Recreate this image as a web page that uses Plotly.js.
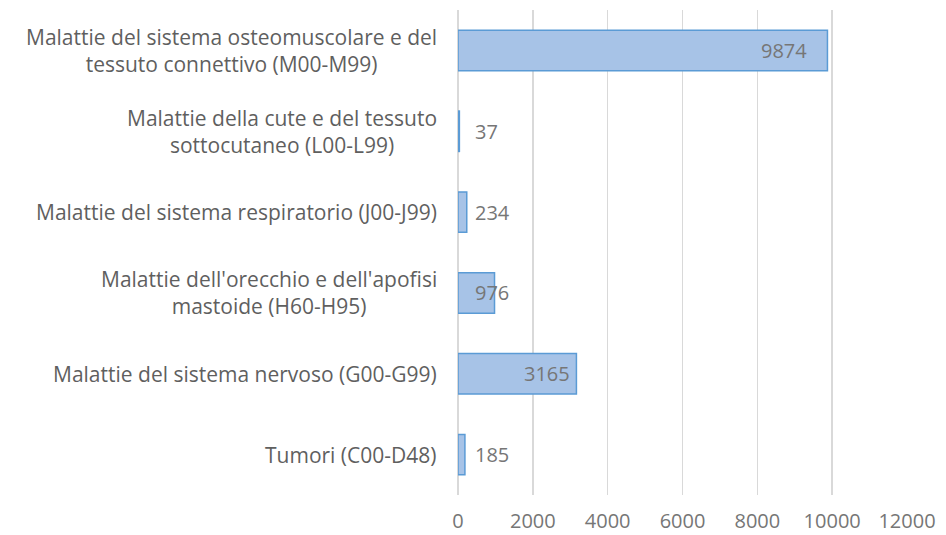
<!DOCTYPE html>
<html>
<head>
<meta charset="utf-8">
<script src="https://cdn.plot.ly/plotly-3.0.1.min.js"></script>
<style>html,body{margin:0;padding:0;background:#fff;}#chart{width:946px;height:535px;}</style>
</head>
<body>
<div id="chart"></div>
<script>
// Categories (bottom to top, as drawn)
const categories = [
  "Tumori (C00-D48)",
  "Malattie del sistema nervoso (G00-G99)",
  "Malattie dell'orecchio e dell'apofisi<br>mastoide (H60-H95)",
  "Malattie del sistema respiratorio (J00-J99)",
  "Malattie della cute e del tessuto<br>sottocutaneo (L00-L99)",
  "Malattie del sistema osteomuscolare e del<br>tessuto connettivo (M00-M99)"
];
const values = [185, 3165, 976, 234, 37, 9874];
const tickValues = [0, 2000, 4000, 6000, 8000, 10000, 12000];

const FONT = "Open Sans, Noto Sans, sans-serif";
const GRAY = "#5f5f5f";
const NUMGRAY = "#767676";

const annotations = [];
categories.forEach((c, i) => {
  annotations.push({
    xref: "paper", yref: "y", x: 0, y: c, xanchor: "right", yanchor: "middle",
    xshift: -19, align: "center", showarrow: false, text: c,
    font: {family: FONT, size: 21, color: GRAY}
  });
  const v = values[i];
  const big = v > 2000;
  annotations.push({
    xref: "x", yref: "y", x: big ? v : 0, y: c,
    xanchor: big ? "right" : "left", yanchor: "middle",
    xshift: big ? (v > 5000 ? -18 : -4) : 15,
    showarrow: false, text: String(v),
    font: {family: FONT, size: 20, color: NUMGRAY}
  });
});

const trace = {
  type: "bar", orientation: "h",
  x: values, y: categories,
  marker: {color: "#a7c3e7", line: {color: "#5b9bd5", width: 1.5}},
  hoverinfo: "none"
};

const layout = {
  width: 946, height: 535,
  margin: {l: 458, r: 39, t: 10, b: 40, pad: 0},
  paper_bgcolor: "#fff", plot_bgcolor: "#fff",
  showlegend: false,
  bargap: 0.5,
  xaxis: {
    range: [0, 12000], tickvals: tickValues, ticktext: tickValues.map(String),
    showgrid: true, gridcolor: "#d9d9d9", gridwidth: 1.5,
    zeroline: true, zerolinecolor: "#d9d9d9", zerolinewidth: 1.5,
    showline: false, ticks: "", ticklabelstandoff: 12,
    tickfont: {family: FONT, size: 20, color: NUMGRAY}, fixedrange: true
  },
  yaxis: {
    type: "category", categoryorder: "array", categoryarray: categories,
    showticklabels: false, showgrid: false, zeroline: false, showline: false, ticks: "",
    fixedrange: true
  },
  annotations: annotations
};

Plotly.newPlot("chart", [trace], layout, {displayModeBar: false, staticPlot: true});
</script>
</body>
</html>
